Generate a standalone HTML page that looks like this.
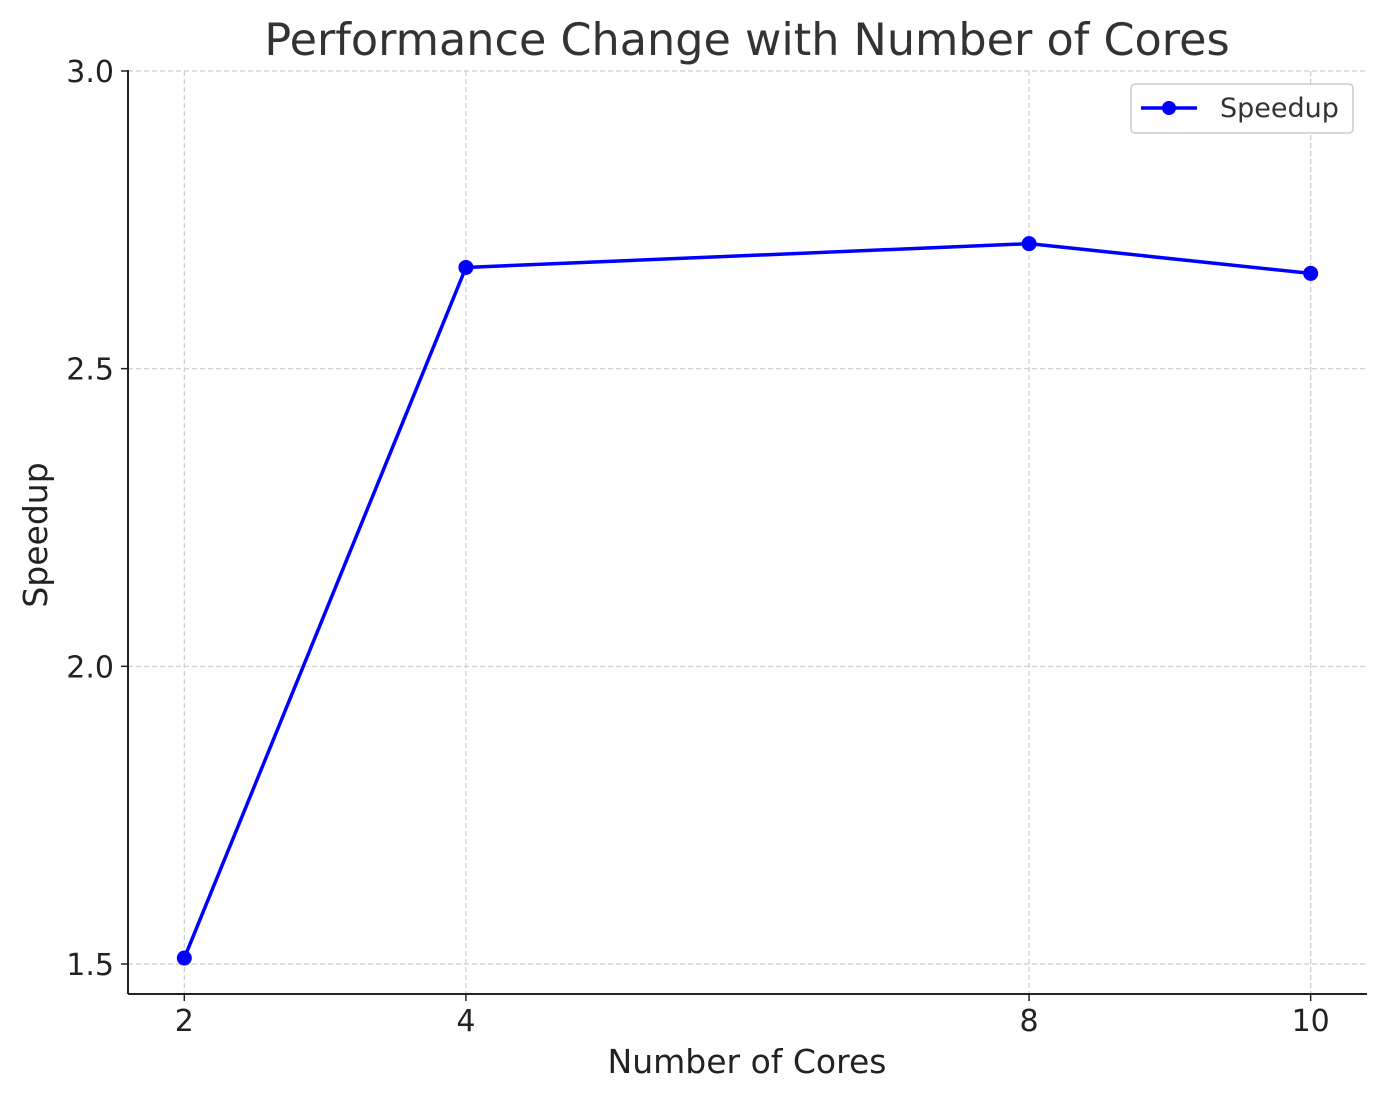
<!DOCTYPE html>
<html><head><meta charset="utf-8"><style>
body{margin:0;background:#fff}
svg text{font-family:"DejaVu Sans","Liberation Sans",sans-serif;fill:#222}
</style></head><body>
<svg width="1387" height="1101" viewBox="0 0 1387 1101">
<g id="grid"></g>
<g id="axes"></g>
<g id="series"></g>
<text x="747" y="55" text-anchor="middle" font-size="44.5" style="fill:#333">Performance Change with Number of Cores</text>
<text x="747" y="1073" text-anchor="middle" font-size="33">Number of Cores</text>
<text transform="translate(47,535) rotate(-90)" text-anchor="middle" font-size="33">Speedup</text>
<g>
<rect x="1131" y="84" width="222" height="49" rx="4" fill="#fff" stroke="#ccc" stroke-width="1.5"/>
<line x1="1141" y1="108" x2="1197" y2="108" stroke="#0000ff" stroke-width="3.5"/>
<circle cx="1169" cy="108" r="7" fill="#0000ff"/>
<text x="1220" y="117" font-size="27" style="fill:#333">Speedup</text>
</g>
</svg>
<script>
const categories=[2,4,8,10];
const speedup=[1.51,2.67,2.71,2.66];
const xTicks=[2,4,8,10];
const yTicks=[1.5,2.0,2.5,3.0];
const yTickLabels=["1.5","2.0","2.5","3.0"];
const L=128,R=1367,T=71,B=994;
const xMin=1.6,xMax=10.4,yMin=1.4496,yMax=3.0;
const sx=v=>L+(v-xMin)/(xMax-xMin)*(R-L);
const sy=v=>B-(v-yMin)/(yMax-yMin)*(B-T);
const NS="http://www.w3.org/2000/svg";
function mk(tag,attrs,parent){const e=document.createElementNS(NS,tag);for(const k in attrs)e.setAttribute(k,attrs[k]);parent.appendChild(e);return e;}
const grid=document.getElementById('grid'),axes=document.getElementById('axes'),series=document.getElementById('series');
xTicks.forEach(v=>{
 const g=mk('line',{x1:sx(v),x2:sx(v),y1:T,y2:B,stroke:'#ccc','stroke-width':1.2,'stroke-dasharray':'5,3'},grid);
 
 
 const t=mk('line',{x1:sx(v),x2:sx(v),y1:B,y2:B+7,stroke:'#222','stroke-width':1.5},axes);
 
 
 const l=mk('text',{x:sx(v),y:B+37,'text-anchor':'middle','font-size':30},axes);
 l.textContent=v;
 
 
});
yTicks.forEach((v,i)=>{
 const g=mk('line',{x1:L,x2:R,y1:sy(v),y2:sy(v),stroke:'#ccc','stroke-width':1.2,'stroke-dasharray':'5,3'},grid);
 
 
 const t=mk('line',{x1:L-7,x2:L,y1:sy(v),y2:sy(v),stroke:'#222','stroke-width':1.5},axes);
 
 
 const l=mk('text',{x:L-14,y:sy(v)+11,'text-anchor':'end','font-size':30},axes);
 l.textContent=yTickLabels[i];
 
 
});
const sp1=mk('line',{x1:L,x2:L,y1:T-1,y2:B,stroke:'#222','stroke-width':2},axes);


const sp2=mk('line',{x1:L,x2:R,y1:B,y2:B,stroke:'#222','stroke-width':2},axes);


const pl=mk('polyline',{points:categories.map((c,i)=>sx(c)+','+sy(speedup[i])).join(' '),fill:'none',stroke:'#0000ff','stroke-width':3.5},series);


categories.forEach((c,i)=>{
 const p=mk('circle',{cx:sx(c),cy:sy(speedup[i]),r:7.5,fill:'#0000ff'},series);
 
 
});
</script>
</body></html>
